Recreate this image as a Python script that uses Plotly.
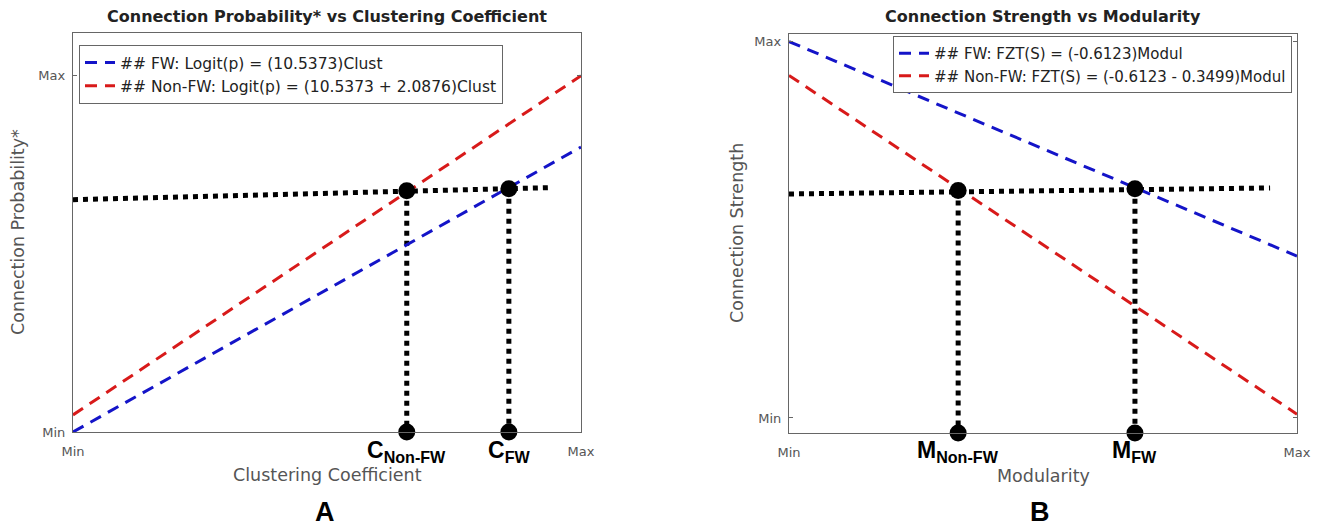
import plotly.graph_objects as go

# ---------------- data ----------------
# Panel A
clust = [0.0, 1.0]
fw_prob = [0.0, 0.80]
nonfw_prob = [0.048, 1.0]
level_a_x = [0.0, 0.94]
level_a_y = [0.652, 0.686]
c_x = [0.657, 0.858]
c_y = [0.677, 0.683]
c_labels = ["<b>C<sub>Non-FW</sub></b>", "<b>C<sub>FW</sub></b>"]

# Panel B
modul = [0.0, 1.0]
fw_str = [1.0, 0.43]
nonfw_str = [0.91, 0.01]
level_b_x = [0.0, 0.947]
level_b_y = [0.595, 0.611]
m_x = [0.333, 0.681]
m_y = [0.604, 0.609]
m_labels = ["<b>M<sub>Non-FW</sub></b>", "<b>M<sub>FW</sub></b>"]

legend_a = ["## FW: Logit(p) = (10.5373)Clust",
            "## Non-FW: Logit(p) = (10.5373 + 2.0876)Clust"]
legend_b = ["## FW: FZT(S) = (-0.6123)Modul",
            "## Non-FW: FZT(S) = (-0.6123 - 0.3499)Modul"]

ya_range = [0.0, 1.12]
yb_range = [-0.04, 1.02]

BLUE = "#1414c8"
RED = "#d81a1a"
FONT = "DejaVu Sans"
GRAY = "#555555"
W, H = 1329, 529

fig = go.Figure()


def add_panel(xa, ya, xs, y1, y2, names, lx, ly, px, py, bottom, legend):
    fig.add_trace(go.Scatter(x=lx, y=ly, mode="lines", xaxis=xa, yaxis=ya,
                             line=dict(color="black", width=5, dash="dot"),
                             showlegend=False, hoverinfo="skip"))
    for x, y in zip(px, py):
        fig.add_trace(go.Scatter(x=[x, x], y=[y, bottom], mode="lines", xaxis=xa, yaxis=ya,
                                 line=dict(color="black", width=5, dash="dot"),
                                 showlegend=False, hoverinfo="skip"))
    fig.add_trace(go.Scatter(x=xs, y=y1, mode="lines", name=names[0], xaxis=xa, yaxis=ya,
                             line=dict(color=BLUE, width=3, dash="12px,8px"), legend=legend))
    fig.add_trace(go.Scatter(x=xs, y=y2, mode="lines", name=names[1], xaxis=xa, yaxis=ya,
                             line=dict(color=RED, width=3, dash="12px,8px"), legend=legend))
    fig.add_trace(go.Scatter(x=list(px) + list(px), y=list(py) + [bottom] * len(px),
                             mode="markers", xaxis=xa, yaxis=ya, cliponaxis=False,
                             marker=dict(color="black", size=17),
                             showlegend=False, hoverinfo="skip"))


add_panel("x", "y", clust, fw_prob, nonfw_prob, legend_a, level_a_x, level_a_y,
          c_x, c_y, ya_range[0], "legend")
add_panel("x2", "y2", modul, fw_str, nonfw_str, legend_b, level_b_x, level_b_y,
          m_x, m_y, yb_range[0], "legend2")

axis_common = dict(showline=True, mirror="ticks", linecolor="#666666", linewidth=1.3,
                   showgrid=False, zeroline=False, ticks="inside", ticklen=4,
                   tickcolor="#666666", automargin=False,
                   tickfont=dict(family=FONT, size=13, color=GRAY))

ydom_a = [1 - 432 / H, 1 - 33 / H]
ydom_b = [1 - 433 / H, 1 - 34 / H]
fig.update_layout(
    width=W, height=H,
    margin=dict(l=0, r=0, t=0, b=0, autoexpand=False),
    paper_bgcolor="white", plot_bgcolor="white",
    font=dict(family=FONT),
    xaxis=dict(domain=[73 / W, 581 / W], range=[0, 1], tickvals=[0, 1], ticktext=["Min", "Max"],
               anchor="y", ticklabelstandoff=7, **axis_common),
    yaxis=dict(domain=ydom_a, range=ya_range, tickvals=[0, 1], ticktext=["Min", "Max"],
               anchor="x", ticklabelstandoff=4, **axis_common),
    xaxis2=dict(domain=[789 / W, 1297 / W], range=[0, 1], tickvals=[0, 1], ticktext=["Min", "Max"],
                anchor="y2", ticklabelstandoff=7, **axis_common),
    yaxis2=dict(domain=ydom_b, range=yb_range, tickvals=[0, 1], ticktext=["Min", "Max"],
                anchor="x2", ticklabelstandoff=4, **axis_common),
    legend=dict(x=79 / W, y=1 - 45 / H, xanchor="left", yanchor="top",
                bordercolor="#666666", borderwidth=1, bgcolor="white",
                font=dict(family=FONT, size=15.5, color="#222222"),
                tracegroupgap=0, itemwidth=30),
    legend2=dict(x=1292 / W, y=1 - 36 / H, xanchor="right", yanchor="top",
                 bordercolor="#666666", borderwidth=1, bgcolor="white",
                 font=dict(family=FONT, size=15, color="#222222"),
                 tracegroupgap=0, itemwidth=30),
    showlegend=True,
)

ann = []


def pa(text, x, y, size, color, angle=0, family=FONT):
    ann.append(dict(text=text, x=x / W, y=1 - y / H, xref="paper", yref="paper",
                    xanchor="center", yanchor="middle", showarrow=False, textangle=angle,
                    font=dict(family=family, size=size, color=color)))


pa("<b>Connection Probability* vs Clustering Coefficient</b>", 327, 17, 16, "#222222")
pa("<b>Connection Strength vs Modularity</b>", 1043, 17, 16, "#222222")
pa("Clustering Coefficient", 327, 475, 17.5, GRAY)
pa("Modularity", 1043, 476, 17.5, GRAY)
pa("Connection Probability*", 18, 232, 17.5, GRAY, -90)
pa("Connection Strength", 737, 233, 17.5, GRAY, -90)
pa("<b>A</b>", 325, 512, 27, "black", family="Liberation Sans")
pa("<b>B</b>", 1040, 512, 27, "black", family="Liberation Sans")

for x, t in zip(c_x, c_labels):
    ann.append(dict(text=t, x=x, xref="x", y=1 - 435 / H, yref="paper", xanchor="center",
                    yanchor="top", showarrow=False,
                    font=dict(family="Liberation Sans", size=23, color="black")))
for x, t in zip(m_x, m_labels):
    ann.append(dict(text=t, x=x, xref="x2", y=1 - 435 / H, yref="paper", xanchor="center",
                    yanchor="top", showarrow=False,
                    font=dict(family="Liberation Sans", size=23, color="black")))

fig.update_layout(annotations=ann)
fig.write_html("out.html", config={"displayModeBar": False},
               post_script="document.body.style.margin='0';")
